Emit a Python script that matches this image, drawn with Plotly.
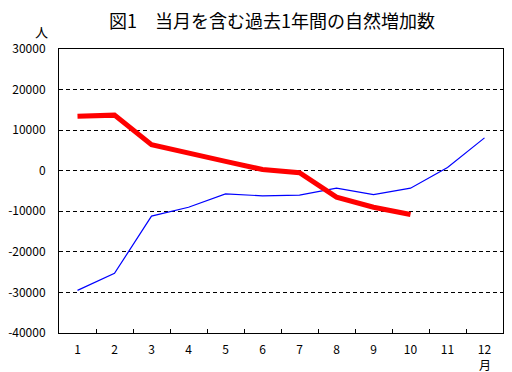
import plotly.graph_objects as go

months = [str(m) for m in range(1, 13)]
current_year = [13400, 13700, 6400, 4500, 2300, 300, -500, -6500, -9000, -10800]
previous_year = [-29500, -25300, -11200, -9000, -5700, -6200, -6000, -4300, -5900, -4300, 800, 8100]
y_ticks = [30000, 20000, 10000, 0, -10000, -20000, -30000, -40000]
y_tick_labels = ["30000", "20000", "10000", "0", "-10000", "-20000", "-30000", "-40000"]
title_text = "図1　当月を含む過去1年間の自然増加数"

FONT = "Noto Sans CJK JP"
OFF = 8  # page body margin offset

fig = go.Figure()
fig.add_trace(go.Scatter(x=months, y=previous_year, mode="lines",
                         line=dict(color="#0000FF", width=1.2), showlegend=False))
fig.add_trace(go.Scatter(x=months[:len(current_year)], y=current_year, mode="lines",
                         line=dict(color="#FF0000", width=5), showlegend=False))

fig.update_layout(
    width=512, height=372,
    margin=dict(l=59 - OFF, r=17, t=49 - OFF, b=47, autoexpand=False),
    paper_bgcolor="white", plot_bgcolor="white",
    font=dict(family=FONT, size=12, color="black"),
    xaxis=dict(type="category", categoryorder="array", categoryarray=months,
               range=[-0.5, len(months) - 0.5], automargin=False,
               tickson="boundaries", ticks="inside", ticklen=4, tickcolor="black",
               showline=True, linecolor="black", linewidth=1, mirror=True,
               showgrid=False, zeroline=False, ticklabelstandoff=6,
               tickfont=dict(family=FONT, size=12, color="black")),
    yaxis=dict(range=[-40000, 30000], tickvals=y_ticks, ticktext=y_tick_labels,
               automargin=False,
               showline=True, linecolor="black", linewidth=1, mirror=True,
               showgrid=True, gridcolor="black", gridwidth=1, griddash="4px,3px",
               zeroline=False, ticks="", ticklabelstandoff=10,
               tickfont=dict(family=FONT, size=12, color="black")),
    annotations=[
        dict(text=title_text, xref="paper", yref="paper", x=(272 - 59) / 444, y=(333 - 20) / 284,
             showarrow=False, xanchor="center", yanchor="middle",
             font=dict(family=FONT, size=18, color="black")),
        dict(text="人", xref="paper", yref="paper", x=(41 - 59) / 444, y=(333 - 32) / 284,
             showarrow=False, xanchor="center", yanchor="middle",
             font=dict(family=FONT, size=13, color="black")),
        dict(text="月", xref="paper", yref="paper", x=(485 - 59) / 444, y=(333 - 364) / 284,
             showarrow=False, xanchor="center", yanchor="middle",
             font=dict(family=FONT, size=12, color="black")),
    ],
)

fig.write_html("out.html")
